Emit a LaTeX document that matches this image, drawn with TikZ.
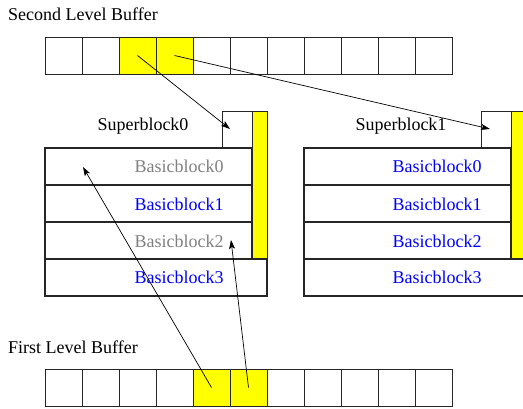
\documentclass[tikz,border=0pt]{standalone}
\usepackage{fontspec}
\setmainfont{Liberation Serif}
\usetikzlibrary{arrows.meta}
\definecolor{ylw}{RGB}{255,255,0}
\definecolor{txtgray}{RGB}{128,128,128}
\definecolor{txtblue}{RGB}{0,0,255}
\begin{document}
\begin{tikzpicture}[x=1pt,y=-1pt,
  cell/.style={draw=black!85, line width=0.9pt, minimum width=37pt, minimum height=37pt,
    anchor=north west, inner sep=0pt, outer sep=0pt},
  hcell/.style={cell, fill=ylw},
  rowbox/.style={draw=black!85, line width=1.1pt, minimum width=207pt, minimum height=37pt,
    anchor=north west, inner sep=0pt, outer sep=0pt},
  lastrow/.style={rowbox, minimum width=222pt},
  smallbox/.style={draw=black!85, line width=0.9pt, minimum width=30pt, minimum height=37pt,
    anchor=north west, inner sep=0pt, outer sep=0pt},
  bar/.style={draw=black!85, fill=ylw, line width=0.9pt, minimum width=15pt, minimum height=148pt,
    anchor=north west, inner sep=0pt, outer sep=0pt},
  lbl/.style={font=\fontsize{18}{20}\selectfont, inner sep=0pt},
  glbl/.style={lbl, text=txtgray},
  blbl/.style={lbl, text=txtblue},
  arr/.style={-{Stealth[length=9pt,width=6pt,inset=2pt]}, line width=0.7pt}
]
\clip (0,0) rectangle (523,409);

% titles
\node[lbl, anchor=west] (t2lbl) at (8,14) {Second Level Buffer};
\node[lbl, anchor=west] (t1lbl) at (8,347) {First Level Buffer};

% buffers
\foreach \i in {0,...,10}{
  \pgfmathtruncatemacro{\xx}{45+37*\i}
  \ifnum\i=2 \node[hcell] (t\i) at (\xx,37) {};
  \else\ifnum\i=3 \node[hcell] (t\i) at (\xx,37) {};
  \else \node[cell] (t\i) at (\xx,37) {};\fi\fi
  \ifnum\i=4 \node[hcell] (f\i) at (\xx,369) {};
  \else\ifnum\i=5 \node[hcell] (f\i) at (\xx,369) {};
  \else \node[cell] (f\i) at (\xx,369) {};\fi\fi
}

% superblock 0
\node[smallbox] (s0) at (222,111) {};
\node[bar] (y0) at (252,111) {};
\node[rowbox] (a0) at (45,148) {};
\node[rowbox] (a1) at (45,185) {};
\node[rowbox] (a2) at (45,222) {};
\node[lastrow] (a3) at (45,259) {};
\node[lbl] (sl0) at (143,126) {Superblock0};
\node[glbl] (al0) at (179,166) {Basicblock0};
\node[blbl] (al1) at (179,204) {Basicblock1};
\node[glbl] (al2) at (179,241) {Basicblock2};
\node[blbl] (al3) at (179,277) {Basicblock3};

% superblock 1
\node[smallbox] (s1) at (481,111) {};
\node[bar] (y1) at (511,111) {};
\node[rowbox] (b0) at (304,148) {};
\node[rowbox] (b1) at (304,185) {};
\node[rowbox] (b2) at (304,222) {};
\node[lastrow] (b3) at (304,259) {};
\node[lbl] (sl1) at (401,126) {Superblock1};
\node[blbl] (bl0) at (437,166) {Basicblock0};
\node[blbl] (bl1) at (437,204) {Basicblock1};
\node[blbl] (bl2) at (437,241) {Basicblock2};
\node[blbl] (bl3) at (437,277) {Basicblock3};

% arrow targets
\coordinate (e0) at (230,129);
\coordinate (e1) at (490,129);
\coordinate (e2) at (83,167);
\coordinate (e3) at (231,240);

\draw[arr] (t2.center) -- (e0);
\draw[arr] (t3.center) -- (e1);
\draw[arr] (f4.center) -- (e2);
\draw[arr] (f5.center) -- (e3);
\end{tikzpicture}
\end{document}
